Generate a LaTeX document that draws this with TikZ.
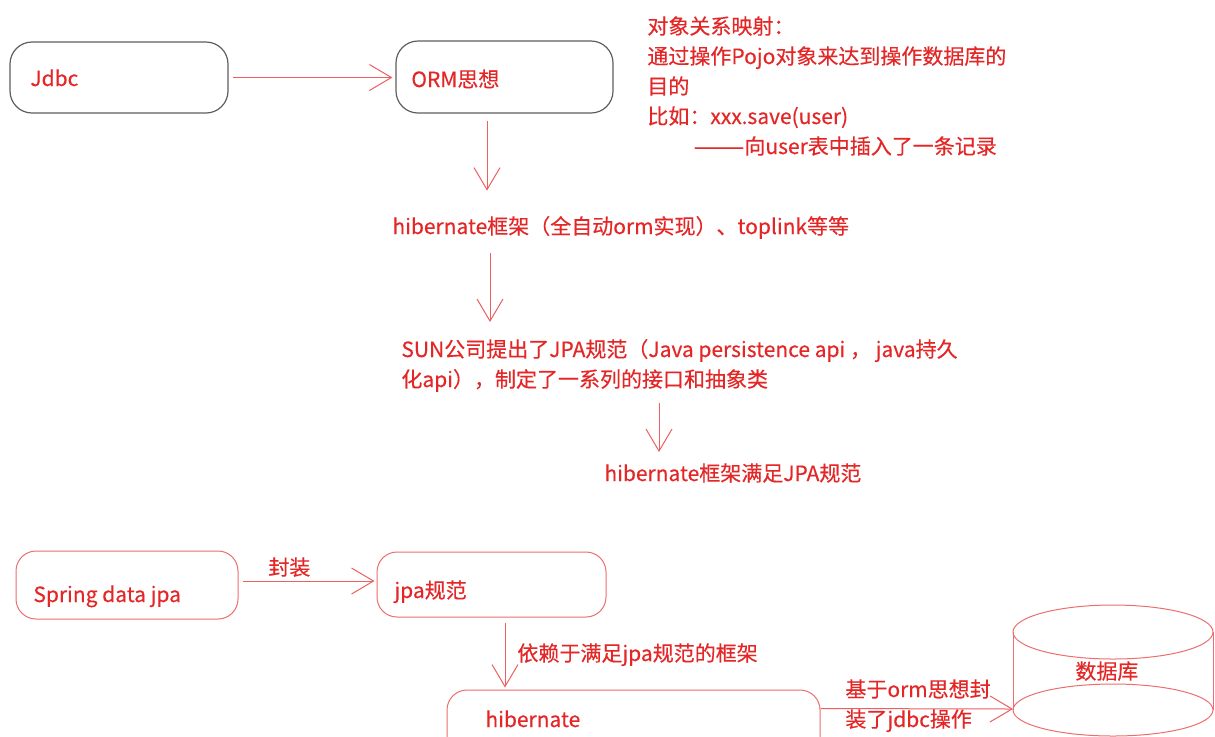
\documentclass[tikz,border=0pt]{standalone}
\usepackage{fontspec}
\setmainfont{Noto Sans CJK SC}[FakeBold=0.3]
\usetikzlibrary{arrows.meta,calc}
\definecolor{txtred}{RGB}{228,38,38}
\definecolor{arrred}{RGB}{236,96,96}
\definecolor{boxgray}{RGB}{95,95,95}
\definecolor{boxred}{RGB}{236,110,110}

\begin{document}
\begin{tikzpicture}[x=0.5pt,y=-0.5pt,
    lbl/.style={anchor=base west, inner sep=0, text=txtred, font=\fontsize{10.5}{15}\selectfont},
    graybox/.style={draw=boxgray, line width=0.6pt, rounded corners=11pt},
    redbox/.style={draw=boxred, line width=0.5pt, rounded corners=10pt},
    cyl/.style={draw=boxred, line width=0.5pt},
    arr/.style={draw=arrred, line width=0.5pt, -{Straight Barb[length=11pt,width=13pt]}}]
\clip (0,0) rectangle (1215,736);
\fill[white] (0,0) rectangle (1215,736);

% jdbc -> orm
\node[graybox, minimum width=109pt, minimum height=35.5pt] (jdbc) at (119,77.5) {};
\node[graybox, minimum width=108.5pt, minimum height=36pt] (orm) at (504.5,77) {};
\node[lbl] (jdbct) at (30,86) {Jdbc};
\node[lbl] (ormt) at (411,87) {ORM思想};
\draw[arr, shorten <=2pt, shorten >=1.5pt] (jdbc.east) -- (jdbc.east -| orm.west);

% note on the right
\node[lbl] (map1) at (647,34) {对象关系映射：};
\node[lbl] (map2) at (647,64) {通过操作Pojo对象来达到操作数据库的};
\node[lbl] (map3) at (647,94) {目的};
\node[lbl] (map4) at (647,124) {比如：xxx.save(user)};
\node[lbl] (map5) at (693,154) {\scalebox{1.45}[1]{——}向user表中插入了一条记录};

% the chain downwards
\node[lbl] (hibt) at (392,234) {hibernate框架（全自动orm实现）、toplink等等};
\node[lbl] (sun1) at (401,357) {SUN公司提出了JPA规范（Java persistence api ， java持久};
\node[lbl] (sun2) at (401,387) {化api），制定了一系列的接口和抽象类};
\node[lbl] (sat) at (604,481) {hibernate框架满足JPA规范};
\draw[arr] ($(orm.south)+(-17.5,7)$) -- ++(0,70);
\draw[arr] ($(hibt.base west)+(98,19)$) -- ++(0,69);
\draw[arr] ($(sun2.base west)+(258,16)$) -- ++(0,49);

% spring data jpa
\node[redbox, minimum width=111pt, minimum height=34pt] (spring) at (127,585) {};
\node[redbox, minimum width=114.5pt, minimum height=32.5pt] (jpa) at (491.5,584.5) {};
\node[redbox, minimum width=186.5pt, minimum height=35pt] (hbox) at (633.5,725) {};
\node[lbl] (springt) at (33,602) {Spring data jpa};
\node[lbl] (jpat) at (394,598) {jpa规范};
\node[lbl] (hbt) at (485,727) {hibernate};
\draw[arr, shorten <=2pt, shorten >=1pt] ($(spring.east)+(0,-4)$) -- ($(jpa.west)+(0,-3.5)$);
\node[lbl] (wrap) at (268,575) {封装};
\draw[arr, shorten <=2.5pt] ($(jpa.south)+(13.5,0)$) -- ($(jpa.south |- hbox.north)+(13.5,-2)$);
\node[lbl] (dep) at (517,661) {依赖于满足jpa规范的框架};

% database
\draw[cyl] (1113,632) ellipse [x radius=50pt, y radius=13.5pt];
\draw[cyl] (1013,632) -- (1013,710);
\draw[cyl] (1213,632) -- (1213,710);
\draw[cyl] (1113,710) ellipse [x radius=50pt, y radius=13pt];
\node[lbl] (dbt) at (1075,679) {数据库};
\coordinate (dbside) at (1013,709);
\draw[arr] ($(hbox.north east)+(0,19)$) -- (dbside);
\node[lbl] (base1) at (845,697) {基于orm思想封};
\node[lbl] (base2) at (845,727) {装了jdbc操作};
\end{tikzpicture}
\end{document}
